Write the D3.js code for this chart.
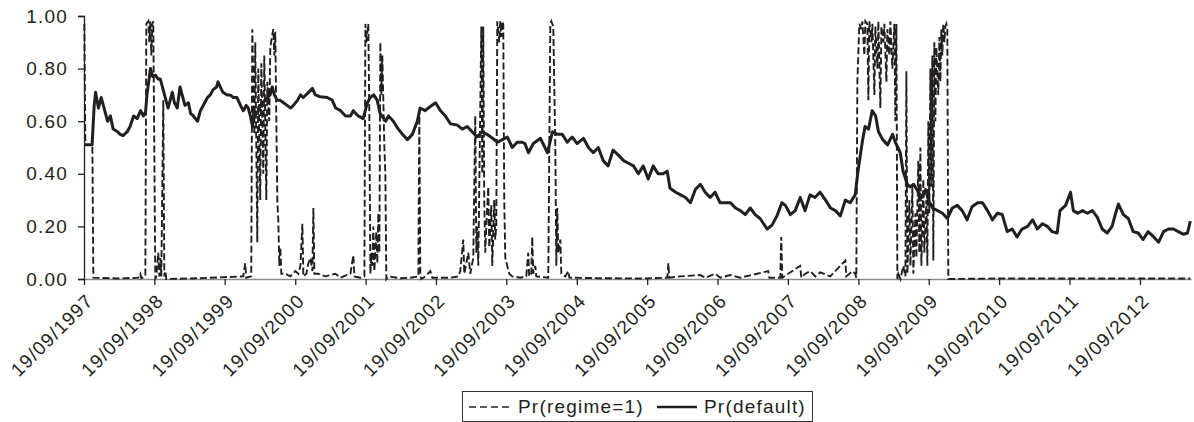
<!DOCTYPE html>
<html>
<head>
<meta charset="utf-8">
<script src="https://cdn.jsdelivr.net/npm/d3@7"></script>
<style>
    body { margin: 0; background: #ffffff; }
    text { font-family: "Liberation Sans", Arial, sans-serif; fill: #231f20; }
</style>
</head>
<body>
<svg id="drawing_region"></svg>
<script>
// x values are decimal years, y values are probabilities
const defaultYears = [
    1997.72,1997.78,1997.83,1997.86,1997.88,1997.92,1997.96,1997.99,1998.05,1998.09,
    1998.13,1998.19,1998.23,1998.27,1998.33,1998.37,1998.42,1998.47,1998.52,1998.56,
    1998.59,1998.61,1998.66,1998.69,1998.73,1998.77,1998.80,1998.84,1998.87,1998.91,
    1998.97,1999.00,1999.04,1999.08,1999.11,1999.15,1999.20,1999.23,1999.27,1999.33,
    1999.37,1999.41,1999.47,1999.51,1999.55,1999.60,1999.62,1999.67,1999.69,1999.75,
    1999.79,1999.84,1999.89,1999.94,1999.98,2000.02,2000.05,2000.08,2000.11,2000.13,
    2000.18,2000.22,2000.26,2000.32,2000.36,2000.39,2000.42,2000.46,2000.50,2000.55,
    2000.60,2000.65,2000.69,2000.75,2000.79,2000.83,2000.89,2000.96,2001.00,2001.07,
    2001.17,2001.24,2001.29,2001.36,2001.43,2001.50,2001.54,2001.61,2001.68,2001.74,
    2001.78,2001.83,2001.88,2001.92,2002.00,2002.04,2002.11,2002.18,2002.24,2002.31,
    2002.38,2002.45,2002.49,2002.56,2002.63,2002.71,2002.78,2002.85,2002.92,2003.02,
    2003.09,2003.16,2003.23,2003.30,2003.37,2003.44,2003.52,2003.59,2003.66,2003.73,
    2003.80,2003.87,2003.94,2003.98,2004.03,2004.10,2004.20,2004.30,2004.37,2004.44,
    2004.51,2004.58,2004.65,2004.72,2004.81,2004.88,2004.95,2005.02,2005.09,2005.16,
    2005.23,2005.31,2005.38,2005.45,2005.52,2005.59,2005.66,2005.73,2005.80,2005.87,
    2005.94,2006.00,2006.04,2006.12,2006.19,2006.26,2006.33,2006.40,2006.47,2006.54,
    2006.61,2006.68,2006.75,2006.83,2006.90,2006.97,2007.04,2007.11,2007.18,2007.25,
    2007.32,2007.42,2007.49,2007.56,2007.63,2007.68,2007.75,2007.82,2007.89,2007.96,
    2008.03,2008.10,2008.17,2008.25,2008.32,2008.39,2008.46,2008.53,2008.60,2008.67,
    2008.71,2008.77,2008.81,2008.86,2008.91,2008.96,2009.00,2009.06,2009.13,2009.20,
    2009.24,2009.31,2009.35,2009.41,2009.45,2009.50,2009.57,2009.62,2009.67,2009.71,
    2009.77,2009.84,2009.91,2009.98,2010.05,2010.12,2010.19,2010.26,2010.33,2010.41,
    2010.48,2010.55,2010.62,2010.69,2010.76,2010.83,2010.90,2010.97,2011.04,2011.12,
    2011.19,2011.26,2011.33,2011.40,2011.47,2011.54,2011.58,2011.66,2011.73,2011.77,
    2011.83,2011.90,2011.97,2012.04,2012.11,2012.18,2012.25,2012.32,2012.37,2012.41,
    2012.48,2012.55,2012.62,2012.69,2012.76,2012.83,2012.91,2012.98,2013.05,2013.12,
    2013.19,2013.26,2013.33,2013.39,2013.43
];
const defaultProb = [
    .51,.51,.51,.66,.71,.65,.69,.66,.60,.62,
    .57,.56,.55,.545,.56,.58,.62,.61,.64,.62,
    .635,.70,.80,.77,.775,.76,.76,.72,.69,.65,
    .71,.67,.65,.73,.70,.66,.67,.63,.62,.60,
    .64,.66,.69,.70,.72,.73,.75,.72,.71,.70,
    .70,.69,.69,.66,.64,.66,.65,.62,.58,.64,
    .63,.66,.67,.69,.70,.73,.70,.68,.68,.67,
    .66,.65,.66,.68,.70,.69,.706,.725,.70,.693,
    .69,.68,.65,.64,.62,.62,.64,.62,.61,.67,
    .69,.70,.68,.63,.60,.62,.60,.57,.55,.53,
    .55,.60,.65,.64,.655,.67,.64,.62,.59,.585,
    .57,.58,.56,.54,.56,.55,.535,.52,.53,.54,
    .50,.52,.52,.515,.48,.515,.535,.48,.56,.55,
    .55,.52,.54,.515,.535,.50,.48,.50,.45,.43,
    .49,.47,.45,.44,.43,.40,.43,.38,.43,.40,
    .40,.41,.345,.33,.32,.31,.29,.34,.36,.33,
    .31,.33,.29,.29,.29,.27,.26,.245,.27,.245,
    .23,.19,.205,.24,.29,.28,.245,.26,.31,.26,
    .32,.31,.33,.30,.27,.26,.24,.30,.29,.32,
    .41,.52,.58,.57,.64,.62,.56,.53,.51,.55,
    .52,.48,.41,.36,.35,.36,.33,.31,.34,.30,
    .27,.26,.25,.23,.27,.28,.26,.225,.275,.29,
    .29,.26,.225,.25,.245,.18,.19,.16,.19,.20,
    .225,.19,.21,.20,.18,.175,.26,.28,.33,.26,
    .25,.26,.25,.26,.235,.19,.175,.20,.25,.285,
    .245,.23,.18,.175,.15,.18,.16,.14,.18,.19,
    .19,.18,.17,.175,.22
];

const regimeYears = [
    1997.720,1997.734,1997.834,1997.848,1998.232,1998.487,1998.516,1998.530,1998.587,1998.601,
    1998.629,1998.644,1998.658,1998.672,1998.686,1998.700,1998.729,1998.743,1998.771,1998.786,
    1998.800,1998.814,1998.842,1998.857,1998.871,1998.885,1999.368,1999.979,2000.007,2000.021,
    2000.092,2000.107,2000.135,2000.149,2000.178,2000.192,2000.220,2000.235,2000.263,2000.277,
    2000.306,2000.320,2000.348,2000.362,2000.391,2000.405,2000.419,2000.433,2000.448,2000.462,
    2000.476,2000.490,2000.504,2000.519,2000.575,2000.646,2000.717,2000.760,2000.789,2000.817,
    2000.831,2000.874,2000.902,2000.931,2000.959,2000.973,2000.987,2001.044,2001.144,2001.286,
    2001.357,2001.499,2001.541,2001.556,2001.641,2001.698,2001.712,2001.726,2001.754,2001.769,
    2001.783,2001.797,2001.811,2001.825,2001.840,2001.868,2001.882,2001.896,2001.911,2001.925,
    2001.939,2001.953,2001.982,2001.996,2002.010,2002.039,2002.209,2002.351,2002.465,2002.479,
    2002.493,2002.507,2002.564,2002.635,2002.664,2002.919,2003.033,2003.061,2003.104,2003.118,
    2003.147,2003.175,2003.203,2003.246,2003.274,2003.289,2003.303,2003.317,2003.360,2003.374,
    2003.388,2003.402,2003.416,2003.431,2003.459,2003.473,2003.502,2003.516,2003.544,2003.558,
    2003.573,2003.587,2003.615,2003.630,2003.644,2003.658,2003.672,2003.686,2003.701,2003.729,
    2003.757,2003.800,2003.914,2003.999,2004.027,2004.041,2004.070,2004.084,2004.098,2004.127,
    2004.141,2004.311,2004.340,2004.354,2004.382,2004.411,2004.425,2004.439,2004.453,2004.482,
    2004.496,2004.553,2004.595,2004.610,2005.050,2005.618,2006.002,2006.016,2006.030,2006.186,
    2006.471,2006.542,2006.684,2006.755,2006.897,2007.039,2007.436,2007.451,2007.607,2007.621,
    2007.635,2007.891,2007.905,2007.962,2008.033,2008.104,2008.175,2008.317,2008.388,2008.530,
    2008.544,2008.630,2008.672,2008.686,2008.701,2008.729,2008.758,2008.772,2008.800,2008.814,
    2008.843,2008.857,2008.871,2008.900,2008.914,2008.942,2008.956,2008.985,2008.999,2009.027,
    2009.042,2009.070,2009.084,2009.113,2009.127,2009.155,2009.169,2009.198,2009.226,2009.240,
    2009.255,2009.269,2009.283,2009.312,2009.354,2009.383,2009.397,2009.411,2009.439,2009.454,
    2009.482,2009.496,2009.525,2009.539,2009.567,2009.581,2009.596,2009.610,2009.638,2009.652,
    2009.681,2009.695,2009.709,2009.723,2009.738,2009.752,2009.766,2009.780,2009.794,2009.809,
    2009.823,2009.851,2009.866,2009.880,2009.894,2009.908,2009.922,2009.937,2009.951,2009.965,
    2009.979,2009.993,2010.732,2013.431
];
const regimeProb = [
    .97,.51,.51,.005,.002,.005,.02,.003,.01,.97,
    .98,.90,.98,.85,.97,.98,0,.01,.10,.01,
    .08,.01,.68,.01,.03,0,.003,.01,.06,.005,
    .01,.95,.55,.90,.14,.80,.30,.82,.40,.85,
    .30,.75,.60,.88,.93,.95,.85,.94,.60,.30,
    .22,.05,.12,.02,.02,.01,.03,.02,.05,.21,
    .01,.02,.06,.08,.03,.27,.02,.02,.01,.02,
    .005,.02,.09,.01,.005,.01,.97,.90,.97,.60,
    .02,.10,.05,.20,.03,.18,.06,.25,.10,.90,
    .70,.85,.50,.40,0,.01,.003,.005,.01,.64,
    .02,0,.01,.03,.005,.005,.01,.03,.15,.02,
    .06,.10,.02,.08,.62,.10,.20,.05,.96,.40,
    .96,.30,.10,.20,.35,.12,.28,.05,.30,.15,
    .20,.98,.90,.98,.92,.98,.97,.30,.08,.05,
    .02,.01,.005,.01,.10,.01,.02,.16,.02,.05,
    .01,.005,.97,.98,.96,.50,.05,.27,.10,.15,
    .02,.01,.03,.005,.003,.002,.005,.06,.005,.01,
    .015,.005,.02,.005,.015,.005,.03,.005,.005,.16,
    .005,.05,.005,.02,.03,.01,.025,.01,.03,.07,
    .01,.03,.02,.005,.75,.97,.95,.98,.85,.98,
    .97,.68,.98,.90,.97,.70,.96,.80,.98,.65,
    .96,.90,.97,.75,.95,.85,.98,.80,.97,.60,
    .97,0,.02,0,.05,.01,.79,.02,.30,.05,
    .35,.02,.25,.08,.45,.10,.50,.05,.38,.10,
    .30,.05,.60,.25,.80,.35,.85,.07,.90,.60,
    .88,.70,.92,.75,.95,.85,.97,.90,.96,.97,
    .95,0,.002,.002
];

const xTickYears = [1997,1998,1999,2000,2001,2002,2003,2004,2005,2006,2007,2008,2009,2010,2011,2012];
const xTickLabels = [
    '19/09/1997','19/09/1998','19/09/1999','19/09/2000','19/09/2001','19/09/2002',
    '19/09/2003','19/09/2004','19/09/2005','19/09/2006','19/09/2007','19/09/2008',
    '19/09/2009','19/09/2010','19/09/2011','19/09/2012'
];
const yTicks = [0, 0.2, 0.4, 0.6, 0.8, 1.0];
const seriesNames = ['Pr(regime=1)', 'Pr(default)'];

// decimal year -> Date
function yearToDate(y) {
    const yr = Math.floor(y);
    const a = new Date(yr, 0, 1), b = new Date(yr + 1, 0, 1);
    return new Date(+a + (y - yr) * (b - a));
}

class LineChart {

    constructor( config ) {
        this.config = {
            parent: config.parent,
            width: config.width || 256,
            height: config.height || 256,
            margin: config.margin || {top:10, right:10, bottom:10, left:10}
        }
        this.ink = '#231f20';
        this.init();
    }

    init() {
        let self = this;

        self.svg = d3.select( self.config.parent )
            .attr('width', self.config.width)
            .attr('height', self.config.height);

        self.chart = self.svg.append('g')
            .attr('transform', `translate(${self.config.margin.left}, ${self.config.margin.top})`);

        self.inner_width = self.config.width - self.config.margin.left - self.config.margin.right;
        self.inner_height = self.config.height - self.config.margin.top - self.config.margin.bottom;

        self.xscale = d3.scaleTime()
            .range( [0, self.inner_width] );

        self.yscale = d3.scaleLinear()
            .range( [self.inner_height, 0] );

        self.xaxis_group = self.chart.append('g')
            .attr('transform', `translate(0, ${self.inner_height})`);

        self.yaxis_group = self.chart.append('g');

        self.line = d3.line()
            .x( d => self.xscale( d.date ) )
            .y( d => self.yscale( d.value ) );
    }

    update() {
        let self = this;

        self.regime = regimeYears.map( (y, i) => ({ date: yearToDate(y), value: regimeProb[i] }) );
        self.pdefault = defaultYears.map( (y, i) => ({ date: yearToDate(y), value: defaultProb[i] }) );
        self.tick_dates = xTickYears.map( y => new Date(y, 8, 19) );

        self.xscale.domain( [new Date(1997, 8, 19), yearToDate(2013.44)] );
        self.yscale.domain( [0, 1] );

        self.render();
    }

    render() {
        let self = this;

        // dashed series first, solid on top
        self.chart.append('path')
            .datum( self.regime )
            .attr('d', self.line)
            .attr('fill', 'none')
            .attr('stroke', self.ink)
            .attr('stroke-width', 1.9)
            .attr('stroke-dasharray', '7,3');

        self.chart.append('path')
            .datum( self.pdefault )
            .attr('d', self.line)
            .attr('fill', 'none')
            .attr('stroke', self.ink)
            .attr('stroke-width', 3)
            .attr('stroke-linejoin', 'round');

        let yaxis = d3.axisLeft( self.yscale )
            .tickValues( yTicks )
            .tickSize( 6 )
            .tickPadding( 10 )
            .tickFormat( d3.format('.2f') );

        self.yaxis_group.call( yaxis );
        self.yaxis_group.select('.domain').attr('stroke', self.ink).attr('stroke-width', 1.3);
        self.yaxis_group.selectAll('.tick line').attr('stroke', self.ink).attr('stroke-width', 1.3);
        self.yaxis_group.selectAll('.tick text')
            .style('font-size', '19px')
            .style('letter-spacing', '1.2px')
            .style('font-family', '"Liberation Sans", Arial, sans-serif')
            .attr('fill', self.ink);

        let xaxis = d3.axisBottom( self.xscale )
            .tickValues( self.tick_dates )
            .tickSize( 6 )
            .tickSizeOuter( 0 )
            .tickFormat( (d, i) => xTickLabels[i] );

        self.xaxis_group.call( xaxis );
        self.xaxis_group.select('.domain').attr('stroke', '#8c8c8c').attr('stroke-width', 1.5);
        self.xaxis_group.selectAll('.tick line').attr('stroke', self.ink).attr('stroke-width', 1.3);
        self.xaxis_group.selectAll('.tick text')
            .attr('x', 0).attr('y', 0).attr('dy', 0)
            .attr('transform', 'translate(10, 23) rotate(-45)')
            .attr('text-anchor', 'end')
            .style('font-size', '19px')
            .style('letter-spacing', '1.2px')
            .style('font-family', '"Liberation Sans", Arial, sans-serif')
            .attr('fill', self.ink);

        // legend
        let legend = self.svg.append('g')
            .attr('transform', 'translate(462, 391)');

        legend.append('rect')
            .attr('x', 0.5).attr('y', 0.5)
            .attr('width', 350).attr('height', 30)
            .attr('fill', 'white')
            .attr('stroke', '#333')
            .attr('stroke-width', 1);

        legend.append('line')
            .attr('x1', 7).attr('x2', 47).attr('y1', 16).attr('y2', 16)
            .attr('stroke', self.ink).attr('stroke-width', 1.6)
            .attr('stroke-dasharray', '7,4');

        legend.append('text')
            .attr('x', 56).attr('y', 22)
            .style('font-size', '19px')
            .style('letter-spacing', '1.2px')
            .text( seriesNames[0] );

        legend.append('line')
            .attr('x1', 195).attr('x2', 235).attr('y1', 16).attr('y2', 16)
            .attr('stroke', self.ink).attr('stroke-width', 2.6);

        legend.append('text')
            .attr('x', 242).attr('y', 22)
            .style('font-size', '19px')
            .style('letter-spacing', '1.2px')
            .text( seriesNames[1] );
    }
}

let config = {
    parent: '#drawing_region',
    width: 1194,
    height: 422,
    margin: {top:16, right:3, bottom:143, left:84} };

let line_chart = new LineChart( config );
line_chart.update();
</script>
</body>
</html>
